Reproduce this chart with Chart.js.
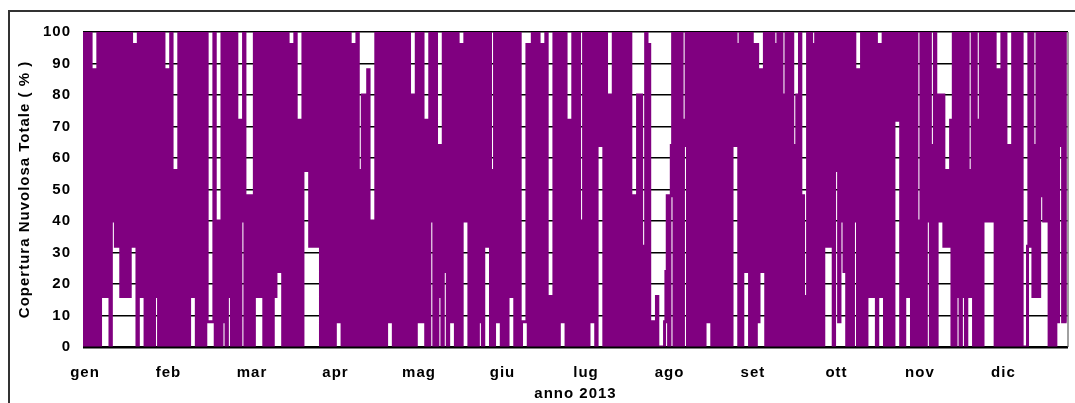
<!DOCTYPE html>
<html>
<head>
<meta charset="utf-8">
<script src="https://cdn.jsdelivr.net/npm/chart.js@4/dist/chart.umd.min.js"></script>
<style>
    html, body { margin: 0; padding: 0; background: #fff; overflow: hidden; }
    #wrap { position: relative; width: 1075px; height: 403px; }
    #frame { position: absolute; left: 8px; top: 10px; width: 1090px; height: 420px; border: 2px solid #333; box-sizing: border-box; }
    #cloudChart { position: absolute; left: 0; top: 0; }
</style>
</head>
<body>
<div id="wrap">
    <div id="frame"></div>
    <canvas id="cloudChart" width="1075" height="403"></canvas>
</div>
<script>
// Copertura nuvolosa totale (%) - anno 2013, letture ogni mezza giornata
const monthNames = ['gen', 'feb', 'mar', 'apr', 'mag', 'giu', 'lug', 'ago', 'set', 'ott', 'nov', 'dic'];
const yTicks = [0, 10, 20, 30, 40, 50, 60, 70, 80, 90, 100];
const sampleStep = 0.5; // days between two readings

const cover = [
    100,0,100,0,100,0,100,0,88,0,
    88,0,100,0,100,16,100,16,100,16,
    100,0,100,40,100,32,100,32,100,16,
    100,16,100,16,100,16,100,32,96,32,
    96,0,100,16,100,16,100,0,100,0,
    100,0,100,0,100,16,100,0,100,0,
    100,0,88,0,88,0,100,0,56,0,
    56,0,100,0,100,0,100,0,100,0,
    100,16,100,16,100,0,100,0,100,0,
    100,0,100,8,8,8,8,8,100,0,
    40,0,40,0,100,8,100,0,100,16,
    100,0,100,0,100,0,72,0,72,40,
    100,0,48,0,48,0,48,0,100,16,
    100,16,100,16,100,0,100,0,100,0,
    100,0,100,16,100,24,100,24,100,0,
    100,0,100,0,96,0,96,0,100,0,
    72,0,72,0,100,56,100,56,100,32,
    100,32,100,32,100,32,100,0,100,0,
    100,0,100,0,100,0,100,0,100,8,
    100,8,100,0,100,0,100,0,100,0,
    96,0,96,0,100,0,56,0,80,0,
    80,0,88,0,40,0,40,0,100,0,
    100,0,100,0,100,0,100,8,100,8,
    100,0,100,0,100,0,100,0,100,0,
    100,0,100,0,80,0,80,0,100,8,
    100,8,100,8,72,0,72,0,100,40,
    100,0,100,0,64,16,64,0,100,24,
    100,0,100,8,100,8,100,0,100,0,
    96,0,96,40,100,40,100,0,100,0,
    100,0,100,0,100,8,100,0,100,32,
    100,32,100,0,56,0,100,8,100,8,
    100,0,100,0,100,0,100,16,100,16,
    100,0,100,0,100,0,8,8,8,8,
    96,0,96,0,100,0,100,0,100,0,
    96,0,96,0,100,0,16,0,16,0,
    100,0,100,0,100,8,100,8,100,0,
    72,0,72,0,100,0,100,0,100,0,
    40,0,100,0,100,0,100,8,100,8,
    100,0,100,64,100,64,100,0,100,0,
    80,0,80,0,100,0,100,0,100,0,
    100,0,100,0,100,0,100,0,48,0,
    48,0,80,0,80,0,32,0,100,0,
    96,0,8,0,8,0,16,0,0,0,
    0,0,8,24,48,0,48,64,100,0,
    100,0,100,0,100,0,64,72,100,0,
    100,0,100,0,100,0,100,0,100,0,
    100,0,100,8,100,8,100,0,100,0,
    100,0,100,0,100,0,100,0,100,0,
    100,0,100,64,100,64,96,0,100,0,
    100,24,100,24,100,0,100,0,96,0,
    96,8,88,24,88,24,100,0,100,0,
    100,0,100,0,96,0,100,0,100,0,
    80,0,100,0,100,0,100,0,64,0,
    80,0,100,0,48,0,16,0,100,0,
    100,0,96,0,100,0,100,0,100,0,
    100,32,100,32,100,32,100,0,100,56,
    100,8,100,40,100,24,100,0,100,0,
    100,0,100,40,88,0,88,0,100,0,
    100,0,100,16,100,16,100,16,100,0,
    96,16,96,16,100,0,100,0,100,0,
    100,0,100,72,100,72,100,0,100,0,
    100,16,100,16,100,0,100,0,100,0,
    40,0,100,0,100,0,100,40,100,0,
    64,0,100,0,80,40,80,40,80,32,
    56,32,56,32,72,0,100,0,100,16,
    100,0,100,16,100,0,100,16,56,16,
    100,0,100,0,72,0,100,0,100,40,
    100,40,100,40,100,40,100,0,88,0,
    88,0,100,0,100,0,64,0,64,0,
    100,0,100,0,100,0,100,0,0,0,
    0,32,100,32,100,16,64,16,100,16,
    100,48,100,40,100,40,100,0,100,0,
    100,0,100,8,100,64,100,8,100,8
];

const fontFamily = '"Liberation Sans", Arial, sans-serif';
const boldFont = { family: fontFamily, size: 15, weight: 'bold' };

// draw the bottom axis line and the plot frame over the data
const framePlugin = {
    id: 'plotFrame',
    beforeDraw(chart) {
        chart.ctx.letterSpacing = '1px';
    },
    afterDatasetsDraw(chart) {
        const { ctx, chartArea: a } = chart;
        ctx.save();
        ctx.strokeStyle = '#808080';
        ctx.lineWidth = 1.5;
        ctx.beginPath();
        ctx.moveTo(a.right, a.top);
        ctx.lineTo(a.right, a.bottom);
        ctx.stroke();
        ctx.strokeStyle = '#000';
        ctx.lineWidth = 2;
        ctx.beginPath();
        ctx.moveTo(a.left, a.bottom + 0.5);
        ctx.lineTo(a.right, a.bottom + 0.5);
        ctx.stroke();
        ctx.restore();
    }
};

const points = cover.map((v, i) => ({ x: i * sampleStep, y: v }));

const ctx = document.getElementById('cloudChart').getContext('2d');
new Chart(ctx, {
    type: 'line',
    data: {
        datasets: [{
            data: points,
            borderColor: '#800080',
            borderWidth: 3,
            pointRadius: 0,
            stepped: 'after',
            fill: false,
            clip: 0
        }]
    },
    options: {
        responsive: false,
        animation: false,
        layout: { padding: { left: 0, right: 7, top: 32, bottom: 0 } },
        plugins: {
            legend: { display: false },
            tooltip: { enabled: false }
        },
        scales: {
            x: {
                type: 'linear',
                min: 0,
                max: 365,
                afterBuildTicks: axis => {
                    axis.ticks = monthNames.map((m, k) => ({ value: 0.74 + k * 30.94 }));
                },
                afterFit: scale => { scale.height = 56; },
                ticks: {
                    autoSkip: false,
                    maxRotation: 0,
                    padding: 17,
                    color: '#000',
                    font: boldFont,
                    callback: (value, index) => monthNames[index]
                },
                grid: { display: false, drawTicks: false },
                border: { display: false },
                title: {
                    display: true,
                    text: 'anno 2013',
                    color: '#000',
                    font: boldFont,
                    padding: { top: 0, bottom: 0 }
                }
            },
            y: {
                min: 0,
                max: 100,
                afterBuildTicks: axis => {
                    axis.ticks = yTicks.map(v => ({ value: v }));
                },
                afterFit: scale => { scale.width = 83; },
                ticks: {
                    padding: 12,
                    color: '#000',
                    font: boldFont
                },
                grid: { color: '#000', lineWidth: 1.5, drawTicks: false },
                border: { display: false },
                title: {
                    display: true,
                    text: 'Copertura Nuvolosa Totale ( % )',
                    color: '#000',
                    font: boldFont,
                    padding: { top: 16, bottom: 0 }
                }
            }
        }
    },
    plugins: [framePlugin]
});
</script>
</body>
</html>
